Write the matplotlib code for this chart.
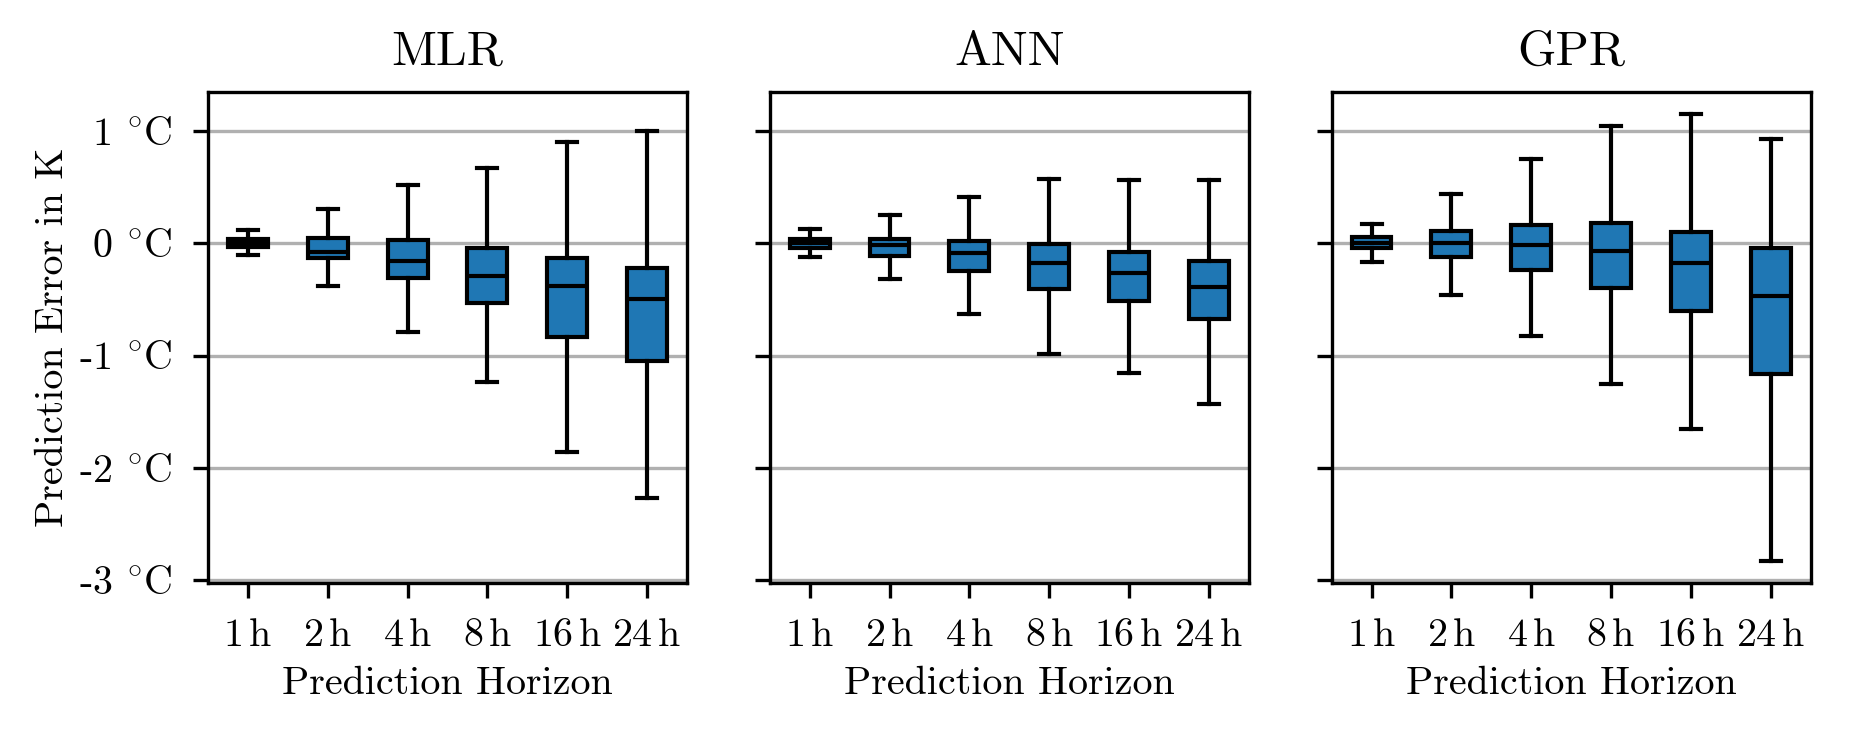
import matplotlib
matplotlib.use("Agg")
import matplotlib.pyplot as plt

plt.rcParams['font.family'] = 'serif'
plt.rcParams['font.serif'] = ['cmr10']
plt.rcParams['mathtext.fontset'] = 'cm'
plt.rcParams['axes.unicode_minus'] = False
plt.rcParams['axes.formatter.use_mathtext'] = True

models = ["MLR", "ANN", "GPR"]
horizons = ["1", "2", "4", "8", "16", "24"]

# box statistics per model, one value per horizon
whislo = {
    "MLR": [-0.107, -0.385, -0.793, -1.240, -1.858, -2.266],
    "ANN": [-0.121, -0.322, -0.630, -0.988, -1.157, -1.429],
    "GPR": [-0.169, -0.459, -0.825, -1.251, -1.654, -2.825],
}
q1 = {
    "MLR": [-0.030, -0.136, -0.308, -0.530, -0.831, -1.047],
    "ANN": [-0.041, -0.115, -0.249, -0.411, -0.512, -0.672],
    "GPR": [-0.044, -0.124, -0.243, -0.396, -0.601, -1.163],
}
med = {
    "MLR": [0.005, -0.080, -0.163, -0.290, -0.385, -0.497],
    "ANN": [0.000, -0.020, -0.092, -0.180, -0.263, -0.391],
    "GPR": [0.000, 0.000, -0.018, -0.068, -0.178, -0.467],
}
q3 = {
    "MLR": [0.038, 0.047, 0.030, -0.047, -0.136, -0.222],
    "ANN": [0.038, 0.038, 0.018, -0.009, -0.083, -0.160],
    "GPR": [0.053, 0.107, 0.160, 0.183, 0.101, -0.041],
}
whishi = {
    "MLR": [0.121, 0.302, 0.521, 0.669, 0.899, 0.994],
    "ANN": [0.130, 0.251, 0.411, 0.574, 0.559, 0.565],
    "GPR": [0.172, 0.441, 0.746, 1.044, 1.148, 0.929],
}
yticks = [-3, -2, -1, 0, 1]

fig, axes = plt.subplots(1, 3, figsize=(6.19, 2.45), dpi=300, sharey=True)
fig.subplots_adjust(left=0.112, right=0.975, top=0.875, bottom=0.207, wspace=0.173)

for ax, m in zip(axes, models):
    stats = []
    for i, h in enumerate(horizons):
        stats.append({
            "label": h + r"$\,$h",
            "whislo": whislo[m][i], "q1": q1[m][i], "med": med[m][i],
            "q3": q3[m][i], "whishi": whishi[m][i], "fliers": [],
        })
    ax.bxp(stats, widths=0.5, patch_artist=True, showfliers=False,
           boxprops=dict(facecolor="#1f77b4", edgecolor="black", linewidth=1.0),
           medianprops=dict(color="black", linewidth=1.0),
           whiskerprops=dict(color="black", linewidth=1.0),
           capprops=dict(color="black", linewidth=1.0))
    ax.set_title(m, fontsize=11.8, pad=6.5)
    ax.set_xlabel("Prediction Horizon", fontsize=9.6, labelpad=3)
    ax.yaxis.grid(True, color="#b0b0b0", linewidth=0.8)
    ax.set_axisbelow(True)
    ax.tick_params(labelsize=9.6, length=3.5, width=0.8, pad=5)
    for s in ax.spines.values():
        s.set_linewidth(0.8)

axes[0].set_yticks(yticks)
axes[0].set_yticklabels([str(t) + r" $^{\circ}$C" for t in yticks])
axes[0].set_ylabel("Prediction Error in K", fontsize=9.6, labelpad=2)

fig.savefig("out.png", dpi=300)
